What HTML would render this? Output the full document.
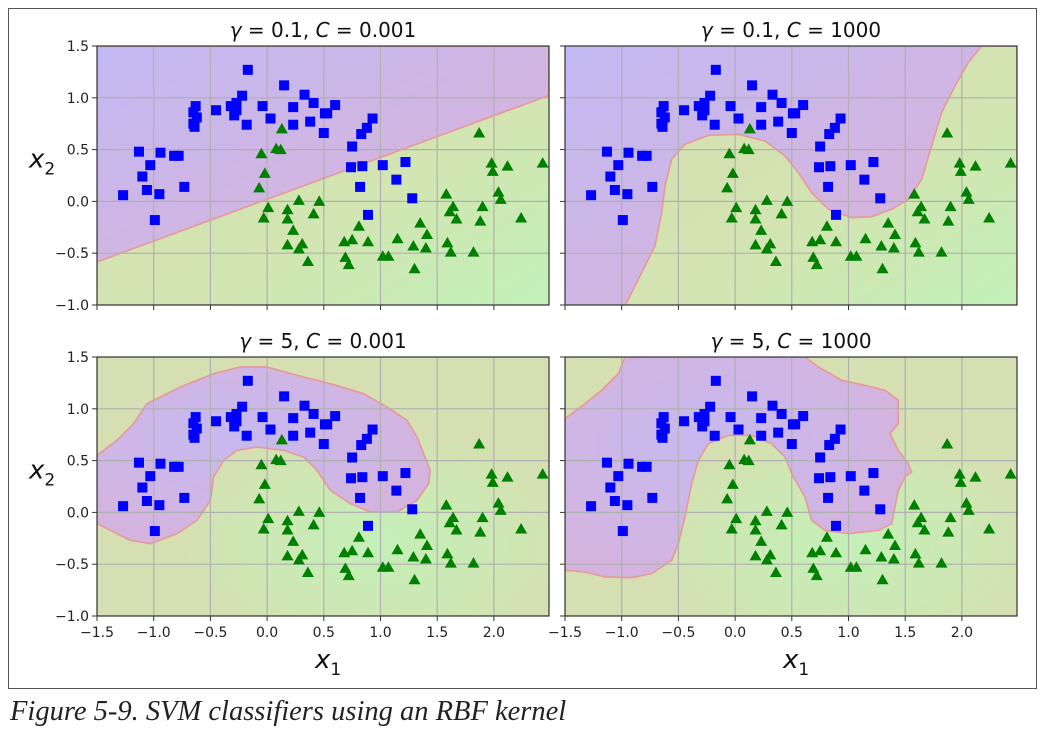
<!DOCTYPE html>
<html><head><meta charset="utf-8"><style>
html,body{margin:0;padding:0;background:#fff;width:1054px;height:742px;overflow:hidden}
#frame{position:absolute;left:8px;top:8px;width:1029px;height:681px;border:1px solid #555;box-sizing:border-box}
#cap{position:absolute;left:10px;top:696px;font:italic 28.5px "Liberation Serif",serif;color:#222;white-space:nowrap}
svg{position:absolute;left:0;top:0}
</style></head><body>
<div id="frame"></div>
<svg id="chart" width="1054" height="742"></svg>
<div id="cap">Figure 5-9. SVM classifiers using an RBF kernel</div>
<script>
const squareX=[-0.17,0.15,0.33,0.41,0.51,-0.22,-0.27,-0.32,-0.27,-0.29,-0.45,-0.63,-0.65,-0.62,-0.65,-0.64,-0.04,0.03,-0.18,0.23,0.23,0.38,0.50,-1.13,-0.94,-0.82,-0.78,-1.03,-1.10,-1.06,-0.95,-0.73,-1.27,-0.99,0.60,0.53,0.93,0.88,0.83,0.75,0.74,0.84,1.02,1.22,1.14,0.82,1.28,0.89];
const squareY=[1.27,1.12,1.03,0.95,0.85,1.02,0.95,0.92,0.88,0.83,0.88,0.92,0.86,0.81,0.75,0.72,0.92,0.80,0.74,0.91,0.74,0.77,0.66,0.48,0.47,0.44,0.44,0.35,0.24,0.11,0.07,0.14,0.06,-0.18,0.93,0.85,0.80,0.71,0.65,0.53,0.33,0.34,0.35,0.38,0.21,0.14,0.03,-0.13];
const triX=[0.13,0.08,0.12,-0.05,-0.02,-0.07,0.01,-0.03,0.18,0.18,0.28,0.41,0.46,0.23,0.18,0.31,0.28,0.36,1.87,1.98,1.99,2.12,2.43,1.58,2.04,2.06,1.64,1.61,1.67,1.90,1.88,2.24,1.35,1.41,0.81,0.68,0.75,0.89,1.15,1.29,1.40,1.59,1.62,1.82,0.69,0.72,1.02,1.07,1.30];
const triY=[0.70,0.51,0.50,0.46,0.27,0.13,-0.06,-0.16,-0.08,-0.17,0.01,-0.12,0.0,-0.28,-0.42,-0.41,-0.46,-0.58,0.66,0.37,0.29,0.34,0.37,0.07,0.09,0.02,-0.05,-0.10,-0.17,-0.05,-0.19,-0.16,-0.21,-0.32,-0.24,-0.39,-0.37,-0.39,-0.36,-0.43,-0.45,-0.40,-0.49,-0.49,-0.54,-0.61,-0.53,-0.53,-0.65];
const xTicks=[-1.5,-1.0,-0.5,0.0,0.5,1.0,1.5,2.0];
const yTicks=[1.5,1.0,0.5,0.0,-0.5,-1.0];
const titles=[["0.1","0.001"],["0.1","1000"],["5","0.001"],["5","1000"]];

const NS="http://www.w3.org/2000/svg";
const svg=document.getElementById('chart');
const W=452,H=259,XMIN=-1.5,XMAX=-1.5+452/113.4,YMIN=-1,YMAX=1.5;
const sx=x=>(x-XMIN)/(XMAX-XMIN)*W;
const sy=y=>(YMAX-y)/(YMAX-YMIN)*H;
function mk(tag,attrs,parent){const e=document.createElementNS(NS,tag);for(const k in attrs)e.setAttribute(k,attrs[k]);(parent||svg).appendChild(e);return e;}

const defs=mk('defs',{});
defs.innerHTML=`
<linearGradient id="gP" x1="0" y1="0" x2="1" y2="1"><stop offset="0" stop-color="#c2b9f3"/><stop offset="0.6" stop-color="#d2b5e0"/><stop offset="1" stop-color="#d8b2d8"/></linearGradient>
<linearGradient id="gG" x1="0" y1="0" x2="1" y2="1"><stop offset="0" stop-color="#d6ddaf"/><stop offset="0.6" stop-color="#d2e5b2"/><stop offset="1" stop-color="#c2f0b8"/></linearGradient>
<radialGradient id="gG2" cx="0.62" cy="0.72" r="0.45"><stop offset="0" stop-color="#c4efb8"/><stop offset="0.7" stop-color="#cfe6b3"/><stop offset="1" stop-color="#d5dfb2"/></radialGradient>
<radialGradient id="gP2" cx="0.4" cy="0.4" r="0.6"><stop offset="0" stop-color="#c6b9f0"/><stop offset="1" stop-color="#d4b4de"/></radialGradient>`;

const bounds=[
 {bg:'url(#gG)',fg:'url(#gP)',d:"M0,0 L1356,0 L1356,148 L0,648 Z"},
 {bg:'url(#gP)',fg:'url(#gG)',d:"M180,780 L230,680 L270,600 L290,500 L300,420 L320,340 L360,295 L430,268 L520,265 L600,285 L660,330 L700,380 L740,440 L790,490 L860,515 L920,512 L980,490 L1030,460 L1070,400 L1100,300 L1130,200 L1170,120 L1210,50 L1250,0 L1356,0 L1356,780 Z"},
 {bg:'url(#gG2)',fg:'url(#gP2)',d:"M0,295 L60,250 L110,200 L150,140 L250,90 L350,50 L430,30 L510,30 L600,55 L700,80 L800,110 L870,150 L930,190 L960,240 L980,290 L1000,340 L995,380 L960,430 L900,465 L820,465 L760,440 L700,400 L660,340 L620,300 L560,280 L480,270 L420,280 L380,310 L350,360 L340,430 L300,490 L240,530 L160,560 L100,550 L40,520 L0,500 Z"},
 {bg:'url(#gG2)',fg:'url(#gP2)',d:"M0,185 L60,140 L110,100 L160,50 L180,0 L720,0 L760,30 L830,70 L900,85 L960,100 L1000,130 L1000,200 L975,230 L1000,280 L1030,320 L1040,345 L1020,360 L1000,400 L990,450 L980,500 L940,520 L850,530 L780,520 L740,490 L720,420 L680,350 L660,300 L620,260 L560,235 L490,235 L430,260 L400,310 L380,380 L360,480 L340,560 L320,610 L260,650 L200,662 L120,660 L60,645 L0,640 Z"}
];
const origins=[[97,46],[565,46],[97,357],[565,357]];

origins.forEach((o,i)=>{
  const g=mk('g',{transform:`translate(${o[0]},${o[1]})`});
  
  
  const clip=mk('clipPath',{id:'c'+i},defs);mk('rect',{x:0,y:0,width:W,height:H},clip);
  const pg=mk('g',{'clip-path':`url(#c${i})`},g);
  const bg=mk('rect',{x:0,y:0,width:W,height:H,fill:bounds[i].bg},pg);
  
  
  const pth=mk('path',{d:bounds[i].d,transform:'scale(0.3333,0.3333)',fill:bounds[i].fg,stroke:'#e79a9a','stroke-width':5},pg);
  
  
  xTicks.forEach(t=>{mk('line',{x1:sx(t),x2:sx(t),y1:0,y2:H,stroke:'#b0b0b0','stroke-width':1.2},pg);});
  yTicks.forEach(t=>{mk('line',{x1:0,x2:W,y1:sy(t),y2:sy(t),stroke:'#b0b0b0','stroke-width':1.2},pg);});
  for(let k=0;k<squareX.length;k++){
    const r=mk('rect',{x:sx(squareX[k])-5,y:sy(squareY[k])-5,width:10,height:10,fill:'#0000ff'},pg);
    
    
  }
  for(let k=0;k<triX.length;k++){
    const cx=sx(triX[k]),cy=sy(triY[k]);
    const p=mk('polygon',{points:`${cx},${cy-6} ${cx+6},${cy+4.5} ${cx-6},${cy+4.5}`,fill:'#008000'},pg);
    
    
  }
  mk('rect',{x:0,y:0,width:W,height:H,fill:'none',stroke:'#333','stroke-width':1.2},g);
  yTicks.forEach(t=>{
    mk('line',{x1:-5,x2:0,y1:sy(t),y2:sy(t),stroke:'#333'},g);
    if(i%2===0){const tx=mk('text',{x:-8,y:sy(t)+5,'text-anchor':'end','font-size':14,'font-family':'DejaVu Sans, sans-serif',fill:'#222'},g);
      tx.textContent=(t<0?'\u2212':'')+Math.abs(t).toFixed(1);
      
      }
  });
  xTicks.forEach(t=>{
    mk('line',{x1:sx(t),x2:sx(t),y1:H,y2:H+5,stroke:'#333'},g);
    if(i>=2){const tx=mk('text',{x:sx(t),y:H+21,'text-anchor':'middle','font-size':14,'font-family':'DejaVu Sans, sans-serif',fill:'#222'},g);
      tx.textContent=(t<0?'\u2212':'')+Math.abs(t).toFixed(1);
      
      }
  });
  const ti=mk('text',{x:W/2,y:-9,'text-anchor':'middle','font-size':20,'font-family':'DejaVu Sans, sans-serif',fill:'#111'},g);
  ti.innerHTML=`<tspan font-style="italic">γ</tspan> = ${titles[i][0]}, <tspan font-style="italic">C</tspan> = ${titles[i][1]}`;
  
  
  if(i%2===0){const yl=mk('text',{x:-68,y:H*0.43+10,'font-size':26,'font-family':'DejaVu Sans, sans-serif','font-style':'italic',fill:'#111'},g);
    yl.innerHTML='x<tspan font-size="17" dy="7" font-style="normal">2</tspan>';
    
    }
  if(i>=2){const xl=mk('text',{x:W/2-8,y:H+52,'font-size':26,'font-family':'DejaVu Sans, sans-serif','font-style':'italic',fill:'#111'},g);
    xl.innerHTML='x<tspan font-size="17" dy="7" font-style="normal">1</tspan>';
    
    }
});
</script>
</body></html>
